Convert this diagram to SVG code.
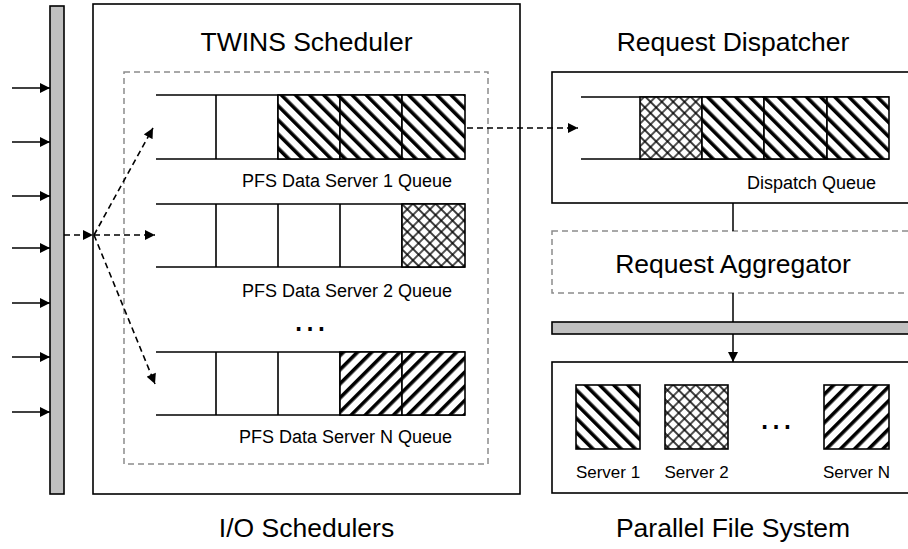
<svg xmlns="http://www.w3.org/2000/svg" width="908" height="549" viewBox="0 0 908 549">
  <defs>
    <style>
      text { font-family: "Liberation Sans", Arial, sans-serif; fill: #000; }
      .big { font-size: 26.5px; text-anchor: middle; }
      .lbl { font-size: 18px; text-anchor: end; }
      .srv { font-size: 17px; text-anchor: middle; }
      .dots { font-size: 36px; text-anchor: middle; }
      .box { fill: #fff; stroke: #000; stroke-width: 1.6; }
      .bar { fill: #c0c0c0; stroke: #000; stroke-width: 1.6; }
      .dbox { fill: none; stroke: #8c8c8c; stroke-width: 1.5; stroke-dasharray: 6 4; }
      .q { fill: none; stroke: #000; stroke-width: 1.6; }
      .cell { stroke: #000; stroke-width: 1.6; }
      .solid { fill: none; stroke: #000; stroke-width: 1.5; }
      .dash { fill: none; stroke: #000; stroke-width: 1.6; stroke-dasharray: 6 4; }
    </style>
    <!-- "\" stripes -->
    <pattern id="hatchDown" width="10" height="10" patternUnits="userSpaceOnUse" patternTransform="rotate(-45)">
      <rect width="10" height="10" fill="#fff"/>
      <rect width="3.6" height="10" fill="#000"/>
    </pattern>
    <!-- "/" stripes -->
    <pattern id="hatchUp" width="10" height="10" patternUnits="userSpaceOnUse" patternTransform="rotate(45)">
      <rect width="10" height="10" fill="#fff"/>
      <rect width="3.6" height="10" fill="#000"/>
    </pattern>
    <!-- diamond crosshatch -->
    <pattern id="cross" width="8" height="8" patternUnits="userSpaceOnUse" patternTransform="rotate(45)">
      <rect width="8" height="8" fill="#fff"/>
      <path d="M0 4H8M4 0V8" stroke="#000" stroke-width="1.35"/>
    </pattern>
    <marker id="arr" viewBox="0 0 10 10" refX="10" refY="5" markerWidth="11" markerHeight="10" markerUnits="userSpaceOnUse" orient="auto">
      <path d="M0 0L10 5L0 10z" fill="#000"/>
    </marker>
  </defs>

  <rect width="908" height="549" fill="#fff"/>

  <!-- incoming request bus -->
  <g id="io-bus">
    <rect class="bar" x="50" y="6" width="14" height="488"/>
  </g>

  <!-- TWINS scheduler -->
  <g id="twins-scheduler">
    <rect class="box" x="93" y="4" width="427" height="490"/>
    <text class="big" x="306.5" y="51">TWINS Scheduler</text>
    <rect class="dbox" x="124" y="72" width="364" height="392"/>
  </g>

  <g id="queue-1">
    <path class="q" d="M156 95H465M156 159H465M216 95V159M278 95V159"/>
    <rect class="cell" x="278" y="95" width="62" height="64" fill="url(#hatchDown)"/>
    <rect class="cell" x="340" y="95" width="62" height="64" fill="url(#hatchDown)"/>
    <rect class="cell" x="402" y="95" width="63" height="64" fill="url(#hatchDown)"/>
    <text class="lbl" x="452" y="187">PFS Data Server 1 Queue</text>
  </g>

  <g id="queue-2">
    <path class="q" d="M156 204H465M156 267H465M216 204V267M278 204V267M340 204V267M402 204V267"/>
    <rect class="cell" x="402" y="204" width="63" height="63" fill="url(#cross)"/>
    <text class="lbl" x="452" y="297">PFS Data Server 2 Queue</text>
  </g>

  <text class="dots" x="310" y="331">…</text>

  <g id="queue-n">
    <path class="q" d="M156 352H465M156 415H465M216 352V415M278 352V415M340 352V415"/>
    <rect class="cell" x="340" y="352" width="62" height="63" fill="url(#hatchUp)"/>
    <rect class="cell" x="402" y="352" width="63" height="63" fill="url(#hatchUp)"/>
    <text class="lbl" x="452" y="443">PFS Data Server N Queue</text>
  </g>

  <text class="big" x="306.5" y="537">I/O Schedulers</text>

  <!-- request dispatcher -->
  <g id="request-dispatcher">
    <text class="big" x="733" y="51">Request Dispatcher</text>
    <rect class="box" x="552" y="72" width="370" height="131"/>
    <path class="q" d="M581 97H889M581 159H889"/>
    <rect class="cell" x="640" y="97" width="62" height="62" fill="url(#cross)"/>
    <rect class="cell" x="702" y="97" width="62" height="62" fill="url(#hatchDown)"/>
    <rect class="cell" x="764" y="97" width="63" height="62" fill="url(#hatchDown)"/>
    <rect class="cell" x="827" y="97" width="62" height="62" fill="url(#hatchDown)"/>
    <text class="lbl" x="876" y="189">Dispatch Queue</text>
  </g>

  <g id="request-aggregator">
    <rect class="dbox" x="552" y="231" width="370" height="62"/>
    <text class="big" x="733" y="273">Request Aggregator</text>
  </g>

  <g id="pfs-bus">
    <rect class="bar" x="552" y="322" width="370" height="12"/>
  </g>

  <!-- parallel file system -->
  <g id="parallel-file-system">
    <rect class="box" x="552" y="362" width="370" height="131"/>
    <rect class="cell" x="576" y="385" width="64" height="64" fill="url(#hatchDown)"/>
    <rect class="cell" x="665" y="385" width="63" height="64" fill="url(#cross)"/>
    <rect class="cell" x="824" y="385" width="65" height="64" fill="url(#hatchUp)"/>
    <text class="dots" x="776" y="429">…</text>
    <text class="srv" x="608" y="478">Server 1</text>
    <text class="srv" x="696.5" y="478">Server 2</text>
    <text class="srv" x="856.5" y="478">Server N</text>
    <text class="big" x="733" y="537">Parallel File System</text>
  </g>

  <!-- connectors -->
  <g id="connectors">
    <path class="solid" d="M12 88H50" marker-end="url(#arr)"/>
    <path class="solid" d="M12 142H50" marker-end="url(#arr)"/>
    <path class="solid" d="M12 196H50" marker-end="url(#arr)"/>
    <path class="solid" d="M12 248H50" marker-end="url(#arr)"/>
    <path class="solid" d="M12 303H50" marker-end="url(#arr)"/>
    <path class="solid" d="M12 357H50" marker-end="url(#arr)"/>
    <path class="solid" d="M12 412H50" marker-end="url(#arr)"/>

    <path class="dash" d="M64 235H93" marker-end="url(#arr)"/>
    <path class="dash" d="M94 235L153 128" marker-end="url(#arr)"/>
    <path class="dash" d="M94 235H155" marker-end="url(#arr)"/>
    <path class="dash" d="M94 235L155 384" marker-end="url(#arr)"/>

    <path class="dash" d="M467 128H578" marker-end="url(#arr)"/>

    <path class="solid" d="M733 203V231M733 293V322"/>
    <path class="solid" d="M733 334V362" marker-end="url(#arr)"/>
  </g>
</svg>
